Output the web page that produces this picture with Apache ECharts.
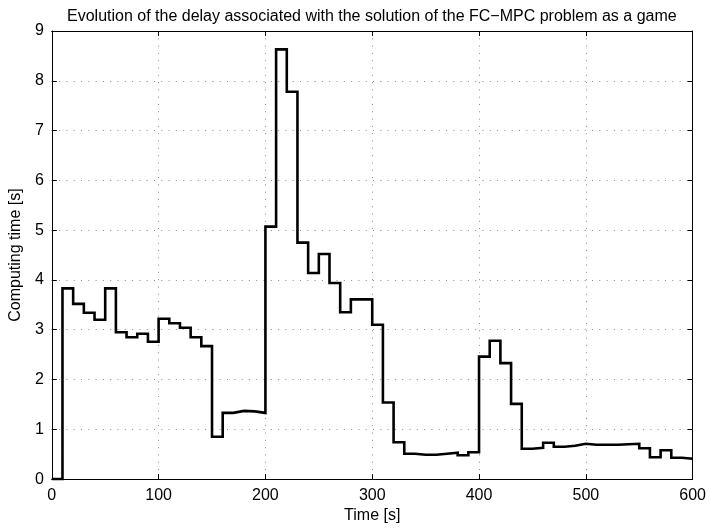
<!DOCTYPE html>
<html>
<head>
<meta charset="utf-8">
<script src="https://cdn.jsdelivr.net/npm/echarts@6/dist/echarts.min.js"></script>
<style>html,body{margin:0;padding:0;background:#fff;}#c{width:709px;height:529px;}</style>
</head>
<body>
<div id="c"></div>
<script>
var titleText = 'Evolution of the delay associated with the solution of the FC\u2212MPC problem as a game';
var xName = 'Time [s]';
var yName = 'Computing time [s]';
var times = [0,10,20,30,40,50,60,70,80,90,100,110,120,130,140,150,160,170,180,190,200,210,220,230,240,250,260,270,280,290,300,310,320,330,340,350,360,370,380,390,400,410,420,430,440,450,460,470,480,490,500,510,520,530,540,550,560,570,580,590,600];
var delays = [0,3.83,3.52,3.34,3.2,3.83,2.95,2.85,2.92,2.76,3.22,3.13,3.04,2.85,2.67,0.85,1.33,1.37,1.36,1.33,5.07,8.63,7.78,4.75,4.14,4.52,3.94,3.35,3.61,3.61,3.1,1.54,0.74,0.51,0.49,0.49,0.51,0.53,0.48,0.54,2.46,2.78,2.33,1.51,0.61,0.63,0.73,0.65,0.67,0.71,0.69,0.69,0.69,0.7,0.71,0.62,0.44,0.58,0.43,0.41,0.41];

var font = 'Liberation Sans, Arial, Helvetica, sans-serif';
var chart = echarts.init(document.getElementById('c'), null, {renderer: 'canvas'});
var gridLine = {show: true, lineStyle: {color: '#8a8a8a', width: 1, type: [1, 6.3]}};
var axLine = {show: true, onZero: false, lineStyle: {color: '#000', width: 1}};
var tick = {show: true, inside: true, length: 5, lineStyle: {color: '#000'}};
var lbl = {color: '#000', fontSize: 16, fontFamily: font};
chart.setOption({
  animation: false,
  backgroundColor: '#fff',
  title: {text: titleText, left: 62, top: 4, textStyle: {fontSize: 16, fontWeight: 'normal', color: '#000', fontFamily: font}},
  grid: {left: 51, right: 12, top: 31, bottom: 48, containLabel: false},
  xAxis: [
    {type: 'value', min: 0, max: 600, interval: 100, position: 'bottom', name: xName, nameLocation: 'middle', nameGap: 28,
     nameTextStyle: {color: '#000', fontSize: 16, fontFamily: font},
     axisLine: axLine, axisTick: tick, axisLabel: Object.assign({margin: 8}, lbl), splitLine: gridLine},
    {type: 'value', min: 0, max: 600, interval: 100, position: 'top',
     axisLine: axLine, axisTick: tick, axisLabel: {show: false}, splitLine: {show: false}}
  ],
  yAxis: [
    {type: 'value', min: 0, max: 9, interval: 1, position: 'left', name: yName, nameLocation: 'middle', nameGap: 21,
     nameTextStyle: {color: '#000', fontSize: 16, fontFamily: font},
     axisLine: axLine, axisTick: tick, axisLabel: Object.assign({margin: 8}, lbl), splitLine: gridLine},
    {type: 'value', min: 0, max: 9, interval: 1, position: 'right',
     axisLine: axLine, axisTick: tick, axisLabel: {show: false}, splitLine: {show: false}}
  ],
  series: [{
    type: 'line', step: 'end', showSymbol: false, symbol: 'none',
    lineStyle: {color: '#000', width: 2.6, join: 'miter'},
    data: times.map(function (t, i) { return [t, delays[i]]; })
  }]
});
</script>
</body>
</html>
